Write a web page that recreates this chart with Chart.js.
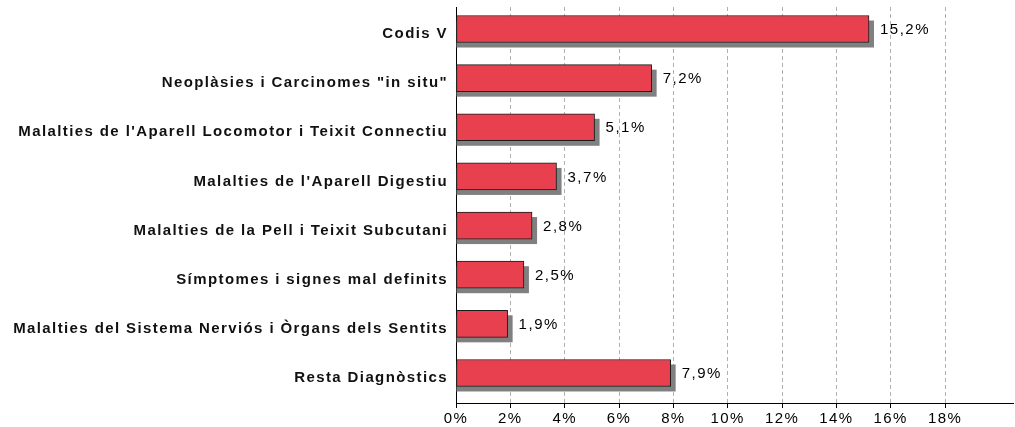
<!DOCTYPE html>
<html>
<head>
<meta charset="utf-8">
<script src="https://cdn.jsdelivr.net/npm/chart.js@4.4.1/dist/chart.umd.min.js"></script>
<style>
  html, body { margin: 0; padding: 0; background: #fff; }
  #wrap { width: 1015px; height: 427px; }
</style>
</head>
<body>
<div id="wrap"><canvas id="c" width="1015" height="427"></canvas></div>
<script>
// Diagnostic groups, top to bottom
const categories = [
  'Codis V',
  'Neoplàsies i Carcinomes "in situ"',
  "Malalties de l'Aparell Locomotor i Teixit Connectiu",
  "Malalties de l'Aparell Digestiu",
  'Malalties de la Pell i Teixit Subcutani',
  'Símptomes i signes mal definits',
  'Malalties del Sistema Nerviós i Òrgans dels Sentits',
  'Resta Diagnòstics'
];
// Share of cases, percent
const shares = [15.2, 7.2, 5.1, 3.7, 2.8, 2.5, 1.9, 7.9];
// Percent ticks shown on the horizontal axis
const xTickValues = [0, 2, 4, 6, 8, 10, 12, 14, 16, 18];

const FONT = '"Liberation Sans", Arial, sans-serif';
const fmtPct = v => v.toFixed(1).replace('.', ',') + '%';

// Grey drop shadow behind each bar
const barShadow = {
  id: 'barShadow',
  beforeDatasetsDraw(chart) {
    const ctx = chart.ctx;
    const meta = chart.getDatasetMeta(0);
    ctx.save();
    ctx.fillStyle = '#808080';
    meta.data.forEach(bar => {
      const { x, y, base, height } = bar.getProps(['x', 'y', 'base', 'height'], true);
      const left = Math.min(base, x), right = Math.max(base, x);
      ctx.fillRect(left, y - height / 2 + 5, right - left + 5, height);
    });
    ctx.restore();
  }
};

// Percent label to the right of each bar
const valueLabels = {
  id: 'valueLabels',
  afterDatasetsDraw(chart) {
    const ctx = chart.ctx;
    const meta = chart.getDatasetMeta(0);
    ctx.save();
    ctx.letterSpacing = '1.5px';
    ctx.font = '15px ' + FONT;
    ctx.fillStyle = '#000';
    ctx.textAlign = 'left';
    ctx.textBaseline = 'middle';
    meta.data.forEach((bar, i) => {
      const { x, y } = bar.getProps(['x', 'y'], true);
      ctx.fillText(fmtPct(shares[i]), x + 11, y + 1);
    });
    ctx.restore();
  }
};

// Slightly spaced lettering for axis text
const textSpacing = {
  id: 'textSpacing',
  beforeDraw(chart) { chart.ctx.letterSpacing = '1.4px'; },
  afterDraw(chart) { chart.ctx.letterSpacing = '0px'; }
};

new Chart(document.getElementById('c'), {
  type: 'bar',
  data: {
    datasets: [{
      data: shares.map((v, i) => ({ x: v, y: i })),
      backgroundColor: '#E8404F',
      borderColor: '#1a1a1a',
      borderWidth: 1,
      borderSkipped: false,
      barThickness: 27
    }]
  },
  options: {
    indexAxis: 'y',
    responsive: false,
    animation: false,
    devicePixelRatio: 1,
    layout: { padding: { top: 7, right: 2, left: 0, bottom: 0 } },
    plugins: { legend: { display: false }, tooltip: { enabled: false } },
    scales: {
      x: {
        type: 'linear',
        position: 'bottom',
        min: 0,
        max: 20.5,
        offset: false,
        afterBuildTicks: s => { s.ticks = xTickValues.map(v => ({ value: v })); },
        afterFit: s => { s.height = 24; s.paddingLeft = 0; s.paddingRight = 0; },
        grid: {
          color: c => (c.tick && c.tick.value === 0) ? 'rgba(0,0,0,0)' : '#b0b0b0',
          lineWidth: 1,
          tickColor: '#000',
          tickLength: 5,
          drawTicks: true
        },
        border: { display: true, color: '#000', width: 1, dash: [4, 3] },
        ticks: {
          color: '#000',
          font: { family: FONT, size: 15 },
          padding: 2,
          autoSkip: false,
          maxRotation: 0,
          callback: v => v + '%'
        }
      },
      y: {
        type: 'linear',
        position: 'left',
        reverse: true,
        offset: false,
        min: -0.448,
        max: 7.611,
        afterBuildTicks: s => { s.ticks = categories.map((c, i) => ({ value: i })); },
        afterFit: s => { s.width = 456; s.paddingTop = 0; s.paddingBottom = 0; },
        grid: { display: false, drawTicks: false, offset: false },
        border: { display: true, color: '#000', width: 1 },
        ticks: {
          color: '#111',
          font: { family: FONT, size: 15, weight: 'bold' },
          padding: 8,
          labelOffset: 5,
          autoSkip: false,
          callback: v => categories[v]
        }
      }
    }
  },
  plugins: [textSpacing, barShadow, valueLabels]
});
</script>
</body>
</html>
